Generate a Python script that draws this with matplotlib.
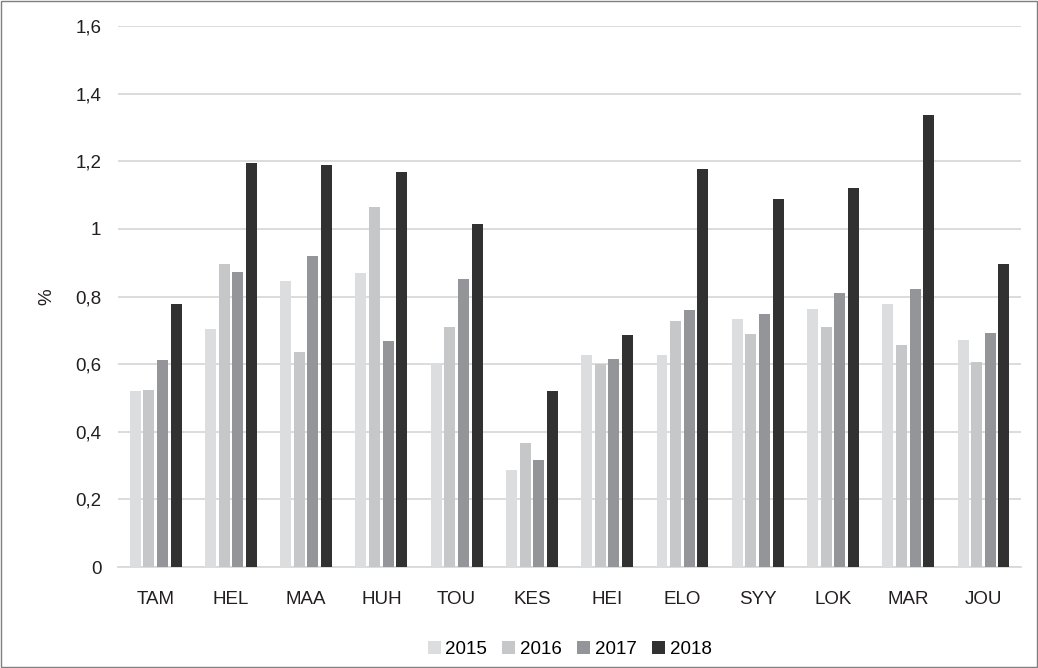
import numpy as np
import matplotlib.pyplot as plt
from matplotlib.patches import Rectangle

# values (%)
categories = ['TAM', 'HEL', 'MAA', 'HUH', 'TOU', 'KES', 'HEI', 'ELO', 'SYY', 'LOK', 'MAR', 'JOU']
years = ['2015', '2016', '2017', '2018']
v2015 = [0.52, 0.704, 0.846, 0.871, 0.601, 0.286, 0.626, 0.627, 0.733, 0.762, 0.779, 0.671]
v2016 = [0.523, 0.897, 0.635, 1.065, 0.710, 0.367, 0.600, 0.727, 0.688, 0.711, 0.656, 0.606]
v2017 = [0.613, 0.873, 0.919, 0.668, 0.852, 0.316, 0.616, 0.760, 0.748, 0.812, 0.821, 0.692]
v2018 = [0.778, 1.196, 1.189, 1.167, 1.016, 0.520, 0.687, 1.178, 1.088, 1.121, 1.336, 0.897]
yticks = [0, 0.2, 0.4, 0.6, 0.8, 1, 1.2, 1.4, 1.6]

colors = ['#dcdddf', '#c6c7c9', '#939598', '#323132']
plt.rcParams['font.family'] = ['Liberation Sans', 'DejaVu Sans']
fs = 13.5

fig = plt.figure(figsize=(10.38, 6.68), dpi=100)
ax = fig.add_axes([0.1137, 0.151, 0.870, 0.810])

x = np.arange(len(categories))
step = 0.181
width = 0.146
series = [v2015, v2016, v2017, v2018]
for i, vals in enumerate(series):
    ax.bar(x + (i - 1.5) * step, vals, width, color=colors[i], label=years[i], zorder=3)

ax.set_xlim(-0.5, len(categories) - 0.5)
ax.set_ylim(0, 1.6)
ax.set_yticks(yticks)
ax.set_yticklabels([('%g' % t).replace('.', ',') for t in yticks], fontsize=fs, color='#231f20')
ax.set_xticks(x)
ax.set_xticklabels(categories, fontsize=fs, color='#231f20')
ax.tick_params(axis='both', length=0)
ax.tick_params(axis='y', pad=12)
ax.tick_params(axis='x', pad=17)
ax.grid(axis='y', color='#d9d9d9', linewidth=1.3, zorder=0)
for s in ['top', 'right', 'left']:
    ax.spines[s].set_visible(False)
ax.spines['bottom'].set_color('#d9d9d9')
ax.spines['bottom'].set_linewidth(1.3)
ax.set_ylabel('%', fontsize=fs, color='#231f20', labelpad=14)

ax.legend(loc='center', bbox_to_anchor=(0.5, -0.152), ncol=4, frameon=False,
          fontsize=fs, handlelength=0.7, handleheight=0.7, handletextpad=0.25,
          columnspacing=0.8)

# frame round the whole figure
fig.patches.append(Rectangle((0.001, 0.001), 0.998, 0.998, transform=fig.transFigure,
                             fill=False, edgecolor='#7f7f7f', linewidth=1))

fig.savefig('out.png', dpi=100)
